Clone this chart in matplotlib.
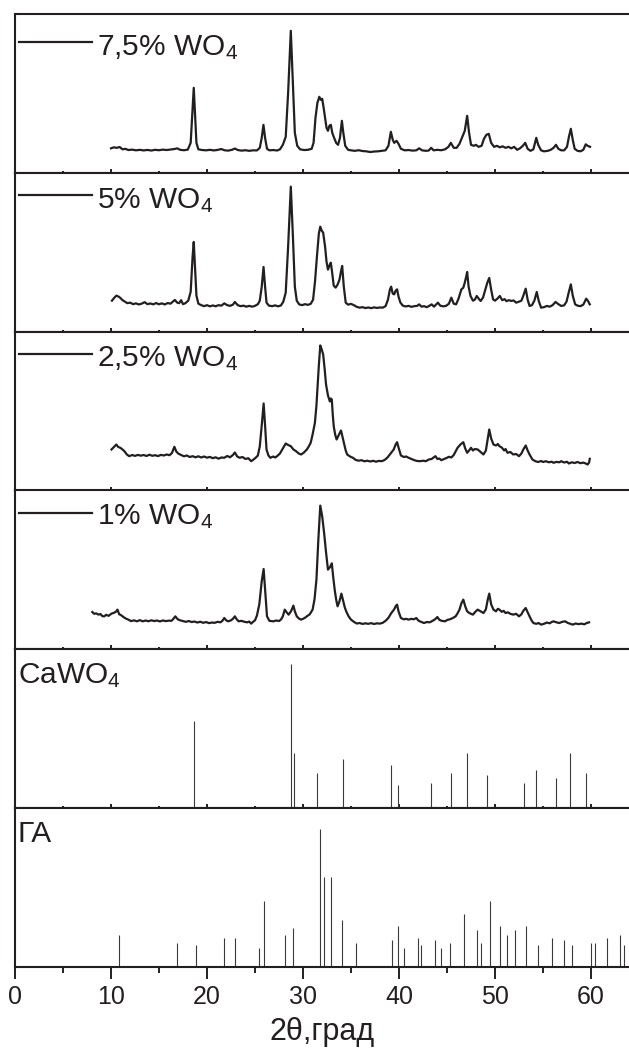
import matplotlib
matplotlib.use("Agg")
import matplotlib.pyplot as plt
from matplotlib.ticker import MultipleLocator

plt.rcParams['font.family'] = ['Liberation Sans', 'DejaVu Sans']
plt.rcParams['mathtext.fontset'] = 'custom'
plt.rcParams['mathtext.rm'] = 'Liberation Sans'
plt.rcParams['mathtext.it'] = 'Liberation Sans'
plt.rcParams['mathtext.bf'] = 'Liberation Sans'
plt.rcParams['mathtext.default'] = 'regular'

# ---------------- data (2theta in degrees, intensity in a.u.) ----------------
labels = ["7,5% WO$_4$", "5% WO$_4$", "2,5% WO$_4$", "1% WO$_4$"]

trace_7_5 = [(10.0,24.5),(10.3,25.5),(10.6,25),(10.9,25.8),(11.2,23.5),(11.5,24),(11.8,22.8),(12.2,23.2),(12.6,22.5),(13.0,23),(13.4,22.4),(13.8,22.9),(14.2,22.3),(14.6,23),(15.0,22.6),(15.4,23.2),(15.8,22.8),(16.2,23.3),(16.6,23.8),(16.9,24.5),(17.2,23),(17.6,22.6),(18.0,23.2),(18.3,30),(18.5,65),(18.62,85),(18.75,60),(18.9,30),(19.1,23.5),(19.5,22.8),(19.9,22.5),(20.3,23),(20.7,22.4),(21.1,22.9),(21.5,23.8),(21.8,22.6),(22.2,22.2),(22.6,23),(22.9,24.3),(23.2,22.8),(23.6,22.2),(24.0,22.6),(24.4,22),(24.8,22.5),(25.2,22.4),(25.5,25),(25.7,35),(25.88,48),(26.05,35),(26.25,24),(26.5,22.5),(26.9,22.8),(27.3,22.3),(27.6,23.5),(27.9,28),(28.2,36),(28.45,80),(28.73,142),(28.95,90),(29.15,40),(29.4,27),(29.7,23.5),(30.1,22.8),(30.5,23),(30.9,24),(31.1,30),(31.3,55),(31.5,70),(31.7,76),(31.85,73),(32.0,74),(32.15,65),(32.3,55),(32.45,45),(32.6,42),(32.75,47),(32.9,48),(33.05,40),(33.2,36),(33.45,30),(33.65,28),(33.85,35),(34.05,52),(34.2,40),(34.4,27),(34.7,23),(35.0,22.5),(35.4,22),(35.8,22.6),(36.2,21.8),(36.6,21.5),(37.0,20.8),(37.4,21.3),(37.8,21.5),(38.2,22),(38.6,22.5),(38.9,27),(39.15,41),(39.35,33),(39.5,30),(39.75,32),(39.95,29),(40.2,24),(40.6,22.5),(41.0,22.8),(41.4,22.2),(41.8,22.5),(42.1,24.5),(42.4,22.5),(42.8,22),(43.1,22.3),(43.35,25),(43.6,22.5),(44.0,23),(44.4,22.6),(44.8,23.5),(45.15,26),(45.4,30),(45.7,25),(46.0,25),(46.3,29),(46.6,36),(46.85,42),(47.1,57),(47.3,40),(47.5,28),(47.8,27),(48.0,28),(48.3,26),(48.6,27),(48.85,34),(49.1,38),(49.35,39),(49.6,30),(49.9,26),(50.2,27),(50.5,25.5),(50.8,26.5),(51.1,25),(51.4,26),(51.7,24.5),(52.0,26),(52.3,23),(52.6,24.5),(52.9,27),(53.15,30),(53.4,24),(53.7,22),(54.0,23.5),(54.3,35),(54.5,28),(54.8,22.5),(55.1,21.5),(55.5,22),(55.8,23),(56.1,25),(56.35,28),(56.6,24),(56.9,22.5),(57.2,22.5),(57.5,26),(57.7,36),(57.9,44),(58.1,33),(58.3,24),(58.6,22),(58.9,21.5),(59.2,23),(59.45,28.5),(59.65,27),(59.9,26)]

trace_5 = [(10.1,31),(10.35,34),(10.56,36),(10.8,35),(11.0,33.5),(11.2,31.5),(11.45,30),(11.7,28.5),(12.0,29),(12.3,27.5),(12.6,28.3),(12.9,27.2),(13.2,28),(13.5,29.5),(13.8,27.5),(14.1,28.2),(14.4,27.3),(14.7,28.6),(15.0,27.4),(15.3,28.3),(15.6,27.2),(15.9,28.6),(16.2,28),(16.45,30),(16.65,31.7),(16.9,29),(17.1,28.5),(17.3,31.5),(17.5,27.5),(17.75,28.5),(18.05,31),(18.3,40),(18.5,75),(18.62,89.7),(18.75,65),(18.9,36),(19.1,28),(19.4,26.5),(19.7,25.5),(20.0,26.5),(20.3,25.3),(20.6,26.2),(20.9,25.4),(21.2,26.5),(21.5,26),(21.8,28.3),(22.1,26.5),(22.4,25.8),(22.7,27),(22.9,29.7),(23.2,26.5),(23.5,25.5),(23.8,26),(24.1,25),(24.4,25.8),(24.7,25),(25.0,25.8),(25.3,27.5),(25.5,31),(25.7,45),(25.89,64.7),(26.05,45),(26.2,29),(26.45,26),(26.8,25.5),(27.1,26.3),(27.4,25.3),(27.7,26.2),(27.95,30),(28.2,39),(28.45,85),(28.73,145),(28.95,95),(29.15,45),(29.35,31),(29.6,27.3),(29.9,26.5),(30.2,27.5),(30.5,26.8),(30.8,27.8),(31.05,32),(31.25,50),(31.45,75),(31.65,98),(31.8,105),(31.95,101),(32.1,99),(32.3,85),(32.45,70),(32.6,62),(32.75,66),(32.9,69),(33.05,58),(33.2,46),(33.4,44),(33.6,47),(33.8,52),(33.95,60),(34.08,65.7),(34.25,45),(34.45,29),(34.7,27),(35.0,27.8),(35.3,26.5),(35.6,24.8),(35.9,24),(36.2,24.5),(36.5,23.6),(36.8,24.2),(37.1,23.5),(37.4,24.3),(37.7,23.7),(38.0,24.2),(38.3,24),(38.6,25.5),(38.85,32),(39.05,42),(39.18,45),(39.35,38),(39.5,37.3),(39.65,41),(39.8,42.3),(39.95,35),(40.15,29),(40.4,26),(40.7,25.2),(41.0,25.8),(41.3,24.8),(41.6,25.5),(41.9,25.8),(42.1,27.3),(42.35,25),(42.6,25.5),(42.9,24.5),(43.15,25.8),(43.4,27.3),(43.65,25),(43.9,27.5),(44.05,29),(44.3,26),(44.6,25.3),(44.9,25.8),(45.2,28),(45.45,34),(45.7,28),(45.95,27.3),(46.2,33),(46.5,42.3),(46.7,44),(46.85,49),(47.0,55),(47.1,59.7),(47.25,45),(47.45,35.7),(47.7,31),(47.9,32),(48.1,35.7),(48.3,33),(48.5,30.7),(48.75,34),(49.0,42.3),(49.2,49),(49.4,53.7),(49.6,42),(49.8,32.3),(50.0,31),(50.25,33),(50.5,35.7),(50.75,31.5),(51.0,32.5),(51.2,30.5),(51.45,31.5),(51.7,30.7),(51.95,31.2),(52.2,29),(52.5,30),(52.75,31),(52.95,36),(53.2,43),(53.4,32),(53.6,25.7),(53.85,26.5),(54.1,31),(54.35,39.7),(54.55,31),(54.8,24),(55.1,24.5),(55.4,25.7),(55.7,25),(56.0,26.5),(56.3,29.7),(56.6,27.5),(56.9,25.7),(57.2,26.3),(57.45,30),(57.7,40),(57.9,47.3),(58.1,36),(58.35,27.3),(58.6,26),(58.9,25.5),(59.2,27),(59.5,33),(59.7,30.5),(59.87,27.3)]

trace_2_5 = [(10.05,41),(10.3,43.5),(10.56,46),(10.75,43.5),(10.97,42.7),(11.2,41),(11.4,39.3),(11.65,36),(11.9,34.3),(12.2,35.5),(12.5,34.6),(12.8,35.6),(13.1,34.8),(13.4,35.5),(13.7,34.5),(14.0,35.8),(14.3,34.7),(14.6,35.3),(14.9,34.4),(15.2,35.6),(15.5,35),(15.8,36),(16.1,35.3),(16.35,37.5),(16.6,43.7),(16.8,39),(17.0,37),(17.3,35.5),(17.6,34.2),(17.9,35),(18.2,33.5),(18.5,34.3),(18.8,33.2),(19.1,34.2),(19.4,33),(19.7,34),(20.0,32.8),(20.3,33.6),(20.6,32.3),(20.9,33.2),(21.2,31.8),(21.5,33),(21.8,32.7),(22.1,34.5),(22.4,33.2),(22.7,35.5),(22.9,38),(23.15,34),(23.4,32.7),(23.7,33.5),(24.0,31.5),(24.3,32.3),(24.6,29.3),(24.85,31),(25.1,33),(25.3,35),(25.5,44.3),(25.7,65),(25.9,87),(26.05,65),(26.2,41),(26.4,35),(26.6,32.7),(26.9,34),(27.1,33),(27.3,34.3),(27.6,37),(27.9,42),(28.2,47),(28.45,45.5),(28.73,44.3),(29.0,41),(29.28,39.3),(29.55,37),(29.8,36),(30.1,38),(30.4,41),(30.6,44),(30.8,47.7),(31.0,56),(31.24,67.7),(31.4,85),(31.5,101),(31.65,125),(31.8,145),(31.95,141),(32.1,136),(32.25,122),(32.4,106),(32.6,95),(32.8,89),(32.9,92),(33.0,91),(33.1,76),(33.2,64.3),(33.35,56),(33.5,51),(33.7,55),(33.96,60),(34.15,52),(34.3,46),(34.45,40),(34.6,36),(34.9,34),(35.2,32.7),(35.5,30.5),(35.8,29.8),(36.1,30.3),(36.4,29.2),(36.7,29.8),(37.0,29),(37.3,29.7),(37.6,28.8),(37.9,29.6),(38.2,29.3),(38.5,30.5),(38.8,33),(39.18,37.7),(39.45,41),(39.65,46),(39.8,48.3),(39.95,43),(40.2,35),(40.5,33.5),(40.75,34),(41.0,32.7),(41.3,31.5),(41.6,30.3),(41.9,29.5),(42.2,29.3),(42.5,29.8),(42.8,29.3),(43.1,31),(43.4,31.5),(43.6,33),(43.8,34.3),(44.0,31.5),(44.2,32),(44.4,30.3),(44.7,31.5),(44.95,32.5),(45.2,33.7),(45.45,33),(45.7,35.5),(45.9,39),(46.1,42.7),(46.4,46),(46.7,48.3),(46.9,42),(47.1,37.7),(47.3,40),(47.5,42.7),(47.7,40),(47.9,41.5),(48.2,41),(48.5,38.5),(48.8,36),(49.05,40),(49.25,52),(49.4,61),(49.6,52),(49.84,46),(50.1,45),(50.3,46.5),(50.46,44.3),(50.7,43),(50.95,40),(51.1,41.5),(51.3,37.7),(51.6,38.5),(51.9,36),(52.2,36.5),(52.5,34.3),(52.75,37),(52.95,41),(53.2,45),(53.4,40),(53.6,36),(53.9,31),(54.2,29.3),(54.5,28.5),(54.8,29.5),(55.0,28.5),(55.3,29.3),(55.6,28.2),(55.9,28.8),(56.1,27.7),(56.4,28.6),(56.7,28.2),(56.9,29.3),(57.2,28),(57.5,28.7),(57.7,27),(58.0,28.2),(58.3,27.5),(58.6,28.5),(58.9,27.3),(59.2,27.9),(59.45,27),(59.65,26),(59.8,28),(59.87,31.7)]

trace_1 = [(8.05,37.3),(8.25,35.5),(8.45,36),(8.7,34.7),(8.9,35.3),(9.1,33.2),(9.3,33),(9.5,34.5),(9.75,33.5),(10.05,35.7),(10.3,36.5),(10.5,37.5),(10.68,39.7),(10.85,35),(11.0,34.5),(11.2,33),(11.5,31),(11.8,29.7),(12.1,28.2),(12.4,29),(12.7,28),(13.0,29.2),(13.3,28),(13.6,28.8),(13.9,28.1),(14.2,29),(14.5,28.3),(14.8,28.8),(15.1,27.9),(15.4,28.9),(15.7,28.2),(16.0,28.7),(16.3,28.5),(16.5,30.5),(16.7,33),(16.95,30),(17.2,29),(17.5,28.3),(17.8,27.5),(18.1,28.3),(18.4,27.3),(18.7,27.8),(19.0,26.8),(19.3,27.6),(19.6,26.5),(19.9,27.3),(20.2,26.2),(20.5,26.8),(20.8,26.5),(21.1,27.5),(21.4,27),(21.6,28.5),(21.8,31.3),(22.0,29),(22.2,28),(22.5,29),(22.7,30.5),(22.9,33),(23.1,30),(23.3,28),(23.6,28.5),(23.9,27.5),(24.2,27),(24.4,27.8),(24.6,25.7),(24.8,27.5),(25.0,29),(25.2,33.7),(25.45,45),(25.7,68),(25.9,80.3),(26.05,60),(26.25,33),(26.5,28.5),(26.9,28),(27.2,28.8),(27.5,28.3),(27.7,29.7),(27.9,33),(28.1,39.7),(28.3,37),(28.5,34.7),(28.75,38),(29.0,43.7),(29.15,38),(29.35,33),(29.55,31),(29.78,29.7),(30.0,30.5),(30.2,31.5),(30.4,33),(30.7,35),(31.0,39.7),(31.2,50),(31.4,69.7),(31.6,110),(31.8,143.7),(32.0,133),(32.2,116.3),(32.4,97),(32.6,79.7),(32.8,82),(33.0,86),(33.15,72),(33.3,59.7),(33.45,50),(33.6,43),(33.8,48),(34.0,55.7),(34.2,48),(34.35,42),(34.5,38),(34.75,33),(35.0,29.7),(35.3,27.5),(35.6,25.8),(35.9,26.3),(36.2,25.4),(36.5,26),(36.8,25.5),(37.1,26.2),(37.4,25.3),(37.7,26),(38.0,25.7),(38.3,26.5),(38.6,28.5),(38.9,31.5),(39.2,36.3),(39.5,40),(39.65,43),(39.8,44.7),(39.95,38),(40.2,31.3),(40.5,30),(40.75,30.5),(41.0,29.7),(41.3,30.5),(41.55,30),(41.8,31.3),(42.05,28.5),(42.3,27.5),(42.6,26.3),(42.9,27.3),(43.2,27),(43.5,28.5),(43.75,30),(44.0,32.3),(44.2,29.5),(44.45,28.5),(44.8,28),(45.05,29.5),(45.3,30),(45.6,31.3),(45.9,33),(46.1,36),(46.3,39.7),(46.5,46),(46.7,49.7),(46.9,43),(47.1,38),(47.3,36.5),(47.5,35.5),(47.7,34.7),(47.95,37.5),(48.2,39.7),(48.5,38),(48.8,36.3),(49.05,40),(49.25,50),(49.4,55.7),(49.6,45),(49.84,39.7),(50.1,38),(50.3,40.5),(50.46,39.7),(50.7,37.5),(50.9,38.5),(51.1,36.3),(51.35,37),(51.6,35.5),(51.9,34.7),(52.2,35.5),(52.5,33),(52.75,35),(52.95,38.5),(53.2,41.3),(53.4,37),(53.6,33),(53.8,29),(54.0,26.3),(54.3,25.5),(54.55,26.3),(54.8,24.7),(55.1,25.5),(55.4,26.8),(55.7,26),(55.9,27.3),(56.1,28),(56.4,27),(56.7,26.3),(57.0,27.5),(57.3,28),(57.6,26.3),(57.85,25.5),(58.1,24.7),(58.4,25.8),(58.7,25.2),(59.0,25.7),(59.3,25),(59.55,26.3),(59.8,27)]

cawo4_pos = [18.66, 28.77, 29.07, 31.49, 34.17, 39.18, 39.93, 43.36, 45.45, 47.12,
             49.13, 52.97, 54.31, 56.31, 57.86, 59.45]
cawo4_int = [87, 143.7, 55.3, 35.3, 49.3, 42.7, 22.7, 25.3, 35.3, 55.3,
             32.7, 25.3, 37.7, 30.3, 55.3, 35.3]

ha_pos = [10.85, 16.91, 18.83, 21.80, 22.88, 25.39, 25.89, 28.15, 28.98, 31.74,
          32.20, 32.91, 34.04, 35.50, 39.22, 39.85, 40.48, 42.02, 42.31, 43.78,
          44.40, 45.28, 46.75, 48.08, 48.58, 49.46, 50.51, 51.30, 52.05, 53.18,
          54.43, 55.94, 57.15, 58.07, 59.95, 60.45, 61.66, 63.00, 63.46]
ha_int = [31.7, 24, 21.7, 29, 29, 19.3, 65.7, 31.7, 39, 138.3,
          90, 90, 47.3, 24, 26.7, 41.3, 19.3, 29, 21.7, 26.7,
          19.3, 24, 53.3, 36.7, 24, 65.7, 41.3, 31.7, 36.7, 41.3,
          21.7, 29, 26.7, 21.7, 24, 24, 29, 31.7, 21.7]

xticks = [0, 10, 20, 30, 40, 50, 60]
xlabel = "2θ,град"

# ---------------- layout ----------------
W, H = 629, 1055
fig = plt.figure(figsize=(W / 100, H / 100), dpi=100)
top_px, bot_px = 14.0, 967.0
ph = (bot_px - top_px) / 6
left_px = 15.0
xmax = 64.0
ax_w_px = 614.4
YMAX = 158.8
LW = 1.5
INK = '#231f20'
LABEL_FS = 21.5

axes = []
for i in range(6):
    b = 1 - (top_px + (i + 1) * ph) / H
    ax = fig.add_axes([left_px / W, b, ax_w_px / W, ph / H])
    axes.append(ax)

traces = [trace_7_5, trace_5, trace_2_5, trace_1]
line_off = [28, 22.5, 22.5, 22.5]   # px below panel top
text_base = [41, 35, 35, 34]       # px below panel top

for i, ax in enumerate(axes):
    ax.set_xlim(0, xmax)
    ax.set_ylim(0, YMAX)
    ax.set_yticks([])
    ax.xaxis.set_major_locator(MultipleLocator(10))
    ax.xaxis.set_minor_locator(MultipleLocator(5))
    for s in ['left', 'top', 'bottom']:
        ax.spines[s].set_linewidth(LW)
        ax.spines[s].set_color(INK)
    ax.spines['right'].set_visible(False)
    if i < 5:
        ax.tick_params(axis='x', which='major', direction='in', length=2.9, width=1.4,
                       labelbottom=False, color=INK)
        ax.tick_params(axis='x', which='minor', direction='in', length=1.5, width=1.4,
                       color=INK)
    else:
        ax.set_xticks(xticks)
        ax.tick_params(axis='x', which='major', direction='out', length=8.6, width=1.4,
                       labelsize=18, pad=4.3, color=INK, labelcolor=INK)
        ax.tick_params(axis='x', which='minor', direction='out', length=4.3, width=1.4,
                       color=INK)

for i in range(4):
    ax = axes[i]
    xs = [p[0] for p in traces[i]]
    ys = [p[1] for p in traces[i]]
    ax.plot(xs, ys, color=INK, lw=1.6, solid_joinstyle='round')
    yl = 1 - line_off[i] / ph
    ax.plot([(19 - left_px) / ax_w_px, (91.5 - left_px) / ax_w_px], [yl, yl],
            transform=ax.transAxes, color=INK, lw=1.6, clip_on=False)
    ax.text((97 - left_px) / ax_w_px, 1 - text_base[i] / ph, labels[i],
            transform=ax.transAxes, fontsize=LABEL_FS, va='baseline', ha='left', color=INK)

axes[4].vlines(cawo4_pos, 0, cawo4_int, colors='#3a3a3a', lw=0.8)
axes[4].text((18 - left_px) / ax_w_px, 1 - 34 / ph, "CaWO$_4$", transform=axes[4].transAxes,
             fontsize=LABEL_FS, va='baseline', ha='left', color=INK)

axes[5].vlines(ha_pos, 0, ha_int, colors='#3a3a3a', lw=0.8)
axes[5].text((17 - left_px) / ax_w_px, 1 - 34 / ph, "ГА", transform=axes[5].transAxes,
             fontsize=LABEL_FS, va='baseline', ha='left', color=INK)

axes[5].set_xlabel(xlabel, fontsize=22, labelpad=6, color=INK)

fig.savefig("out.png", dpi=100)
